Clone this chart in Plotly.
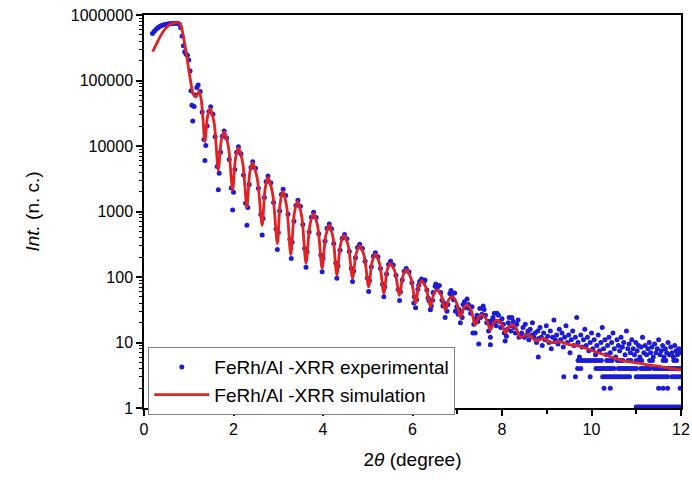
import plotly.graph_objects as go

# ---------------- data ----------------
# experimental: low-angle plateau and critical-angle region
exp_start_x = [0.19,0.23,0.27,0.31,0.35,0.39,0.43,0.47,0.51,0.55,0.59,0.63,0.67,0.71,0.75,0.79,0.82,0.85,0.88,0.91,
               0.94,0.97,1.00,1.03,1.05,1.07,1.09,1.12,1.15,1.18,1.21,1.255,1.30,1.34]
exp_start_y = [520000,565000,605000,640000,670000,690000,705000,715000,725000,732000,738000,742000,746000,748000,745000,725000,640000,480000,340000,275000,
               252000,242000,205000,140000,70000,42000,24000,40000,60000,78000,85000,68000,33000,12600]

# experimental: Kiessig fringes
exp_osc_x = [1.36,1.38,1.41,1.45,1.49,1.54,1.59,1.635,
             1.66,1.68,1.71,1.75,1.79,1.847,1.904,1.95,
             1.98,2.00,2.03,2.07,2.11,2.167,2.224,2.27,
             2.30,2.32,2.35,2.39,2.43,2.493,2.556,2.61,
             2.64,2.66,2.69,2.73,2.77,2.833,2.896,2.95,
             2.98,3.00,3.03,3.07,3.11,3.164,3.218,3.26,
             3.29,3.31,3.35,3.395,3.44,3.494,3.548,3.59,
             3.62,3.645,3.69,3.74,3.79,3.847,3.904,3.95,
             3.98,4.00,4.045,4.09,4.14,4.19,4.24,4.285,
             4.31,4.335,4.38,4.43,4.48,4.534,4.588,4.633,
             4.66,4.685,4.725,4.77,4.82,4.88,4.94,4.99,
             5.02,5.04,5.08,5.125,5.17,5.227,5.284,5.33,
             5.36,5.38,5.42,5.465,5.51,5.57,5.63,5.68,
             5.71,5.73,5.77,5.815,5.86,5.923,5.986,6.04,
             6.07,6.09,6.12,6.16,6.20,6.26,6.32,6.37,
             6.40,6.42,6.46,6.505,6.55,6.60,6.66,6.70,
             6.73,6.75,6.79,6.835,6.88,6.94,6.99,7.04,
             7.07,7.09,7.13,7.175,7.22,7.27,7.33,7.37,
             7.40,7.42,7.46,7.505,7.55,7.60,7.66,7.71,
             7.74,7.76,7.80,7.845,7.89,7.95,8.00,8.05,
             8.08,8.10,8.14,8.18,8.22,8.28,8.33,8.38,
             8.41]
exp_osc_y = [6030,10200,20200,33600,39800,30600,13900,4850,
             2140,3820,8050,14100,17000,13200,6220,2290,
             1050,1960,4380,8000,9770,7620,3610,1340,
             617,1150,2580,4710,5750,4560,2270,899,
             437,780,1640,2880,3470,2750,1370,542,
             263,476,1020,1810,2190,1760,908,378,
             191,338,708,1230,1480,1200,635,273,
             141,243,488,820,977,809,459,216,
             120,192,352,555,646,543,324,163,
             95.5,147,256,389,447,385,246,135,
             85.1,123,197,281,316,272,174,96,
             60.3,88.1,144,207,234,204,135,77.3,
             50.1,71,111,155,174,153,106,64.3,
             43.6,59.8,89.9,122,135,119,82,49.9,
             33.9,45,64.9,85.1,93.3,84.7,63.2,42.9,
             31.6,36,58,72,66,74,44,40,
             24,36,38,56,50,57,35,32,
             20,29,38,34,46,33,35,19,
             14,23,21,33,27,32,20,21,
             12,19,24,21,28,21,23,14,
             15,12.5,20,18,24,17,19,12,
             13]

# experimental: scattered points in the fringe region
exp_scat_x = [6.03,6.14,6.28,6.35,6.45,6.52,6.63,6.68,6.77,6.86,6.92,6.96,7.02,7.11,7.16,7.25,7.30,7.35,7.44,7.48,
              7.52,7.58,7.63,7.70,7.74,7.78,7.83,7.87,7.92,7.97,8.03,8.07,8.12,8.16,8.20,8.25,8.30,8.36,8.81]
exp_scat_y = [40,75,90,48,44,78,58,36,30,62,45,30,27,24,42,38,28,14,26,9.5,
              24,36,26,15,9.2,22,28,18,26,17,19,10.5,16,24,15,21,14,22,6]

# experimental: noisy high-angle tail
exp_tail_x = [8.44,8.47,8.50,8.52,8.55,8.58,8.60,8.63,8.66,8.68,8.71,8.74,8.77,8.80,8.82,8.85,8.88,8.90,8.93,8.96,
              8.99,9.02,9.05,9.08,9.10,9.13,9.16,9.19,9.22,9.25,9.28,9.31,9.34,9.37,9.40,9.43,9.46,9.49,9.52,9.55,
              9.58,9.61,9.64,9.67,9.70,9.73,9.76,9.79,9.82,9.85,9.88,9.91,9.94,9.97,10.00,10.03,10.06,10.09,10.12,10.15,
              10.18,10.21,10.24,10.27,10.30,10.33,10.36,10.39,10.42,10.45,10.48,10.51,10.54,10.57,10.60,10.63,10.66,10.69,10.72,10.75,
              10.78,10.81,10.84,10.87,10.90,10.93,10.96,10.99,11.02,11.05,11.08,11.11,11.14,11.17,11.20,11.23,11.26,11.29,11.32,11.35,
              11.38,11.41,11.44,11.47,11.50,11.53,11.56,11.59,11.62,11.65,11.68,11.71,11.74,11.77,11.80,11.83,11.86,11.89,11.92,11.95,
              11.98]
exp_tail_y = [14,17,12,19,13,15,11,16,13,20,12,14,10,15,11.5,17,12,9,14,11,
              18,12.5,10,15,8,12,22,11,13,9.5,16,11,14,8.5,12,18,10,13,7,11,
              15,9,12,24,10,6,13,8.5,11,16,9,12,7.5,10,14,8,11,6.5,9,13,
              7.5,10,17,8,11,6.5,9,12,7,10,14,8,6,11,9,7.5,12,8.5,10,6.5,
              15,8,9.5,7,11,8,6.5,10,7.5,9,6,8.5,12,7,9,6.5,8,10,7,8.5,
              6,9.5,7,8,11,6.5,7.5,9,6,8,7,10,6.5,8.5,7,6,9,7.5,6.5,8,
              7]

# experimental: low-count levels (quantised intensities) in the tail
row_levels = [5.3, 4.0, 3.0, 2.0, 1.04]
row5_x = [9.70,9.75,9.80,9.86,9.92,9.98,10.04,10.10,10.16,10.22,10.34,10.40,10.46,10.58,10.64,10.70,10.82,10.88,
          11.00,11.06,11.12,11.30,11.36,11.60,11.66,11.84,11.90]
row4_x = [9.69,9.76,10.10,10.15,10.20,10.25,10.30,10.35,10.40,10.45,10.50,10.60,10.65,10.70,10.75,10.80,10.85,10.90,
          10.95,11.00,11.10,11.15,11.20,11.25,11.30,11.40,11.45,11.50,11.55,11.60,11.65,11.70,11.75,11.80,11.85,11.90,
          11.95,12.00]
row3_x = [9.38,9.64,9.97,10.25,10.30,10.35,10.40,10.45,10.50,10.55,10.60,10.65,10.70,10.75,10.80,10.85,11.00,11.05,
          11.10,11.15,11.20,11.25,11.30,11.35,11.40,11.45,11.50,11.55,11.60,11.65,11.70,11.80,11.85,11.90,11.95,12.00]
row2_x = [10.28,10.42,11.50,11.60,11.70,11.98]
row1_x = [11.00,11.04,11.08,11.12,11.16,11.20,11.24,11.28,11.32,11.36,11.40,11.44,11.48,11.52,11.56,11.60,11.64,
          11.68,11.72,11.76,11.80,11.84,11.88,11.92,11.96,12.00]

# simulation
sim_x = [0.19,0.25,0.31,0.37,0.43,0.49,0.55,0.61,0.67,0.73,0.77,0.81,0.85,0.89,0.93,0.97,1.01,1.05,1.10,1.16,
         1.23,1.28,1.32,1.36,1.42,1.48,1.57,1.66,1.725,1.79,1.885,1.98,2.045,2.11,2.205,2.30,2.36,2.42,2.53,2.64,
         2.705,2.77,2.875,2.98,3.04,3.10,3.19,3.28,3.355,3.43,3.525,3.62,3.705,3.79,3.885,3.98,4.06,4.14,4.225,4.31,
         4.39,4.47,4.565,4.66,4.74,4.82,4.92,5.02,5.095,5.17,5.265,5.36,5.43,5.50,5.605,5.71,5.785,5.86,5.965,6.07,
         6.135,6.20,6.30,6.40,6.475,6.55,6.64,6.73,6.805,6.88,6.975,7.07,7.145,7.22,7.31,7.40,7.475,7.55,7.645,7.74,
         7.815,7.89,7.985,8.08,8.15,8.22,8.315,8.41,8.58,8.76,8.92,9.10,9.31,9.50,9.75,10.0,10.2,10.45,10.65,10.9,
         11.1,11.3,11.54,11.8,12.0]
sim_y = [275000,330000,400000,480000,560000,630000,690000,735000,760000,772000,770000,720000,600000,430000,300000,200000,135000,90000,62000,56000,
         68000,50000,25000,11700,28100,37600,21800,4270,11800,16600,9950,2140,6460,9330,5560,1175,3770,5560,3210,617,
         2180,3310,1850,324,1290,2040,1170,219,900,1445,837,162,603,933,575,135,422,617,398,107,
         307,437,299,95.5,226,302,210,70.8,168,224,158,56.2,124,162,122,52.5,103,129,96,39.8,
         71.6,87.1,69.6,35.5,54.6,63.1,53.1,31.6,44.7,50.1,41.9,24.5,33.5,37.2,31.3,18.6,24.1,26.3,23.0,15.5,
         20.1,21.9,19.6,14.1,17.4,18.6,16.7,12.0,13.2,10.7,11.5,10.0,10.2,9.3,8.7,7.6,6.8,6.0,5.4,5.0,
         4.8,4.5,4.3,4.0,3.8]

x_ticks = [0, 2, 4, 6, 8, 10, 12]
y_tick_vals = [1, 10, 100, 1000, 10000, 100000, 1000000]
y_tick_text = ["1", "10", "100", "1000", "10000", "100000", "1000000"]
series_names = ["FeRh/Al -XRR experimental", "FeRh/Al -XRR simulation"]

assert len(exp_start_x) == len(exp_start_y)
assert len(exp_osc_x) == len(exp_osc_y)
assert len(exp_scat_x) == len(exp_scat_y)
assert len(exp_tail_x) == len(exp_tail_y)
assert len(sim_x) == len(sim_y)

# ---------------- assemble ----------------
rows_x = [row5_x, row4_x, row3_x, row2_x, row1_x]
exp_x = exp_start_x + exp_osc_x + exp_scat_x + exp_tail_x
exp_y = exp_start_y + exp_osc_y + exp_scat_y + exp_tail_y
for lvl, xs in zip(row_levels, rows_x):
    exp_x += xs
    exp_y += [lvl] * len(xs)

fig = go.Figure()
fig.add_trace(go.Scatter(
    x=exp_x, y=exp_y, mode="markers", name=series_names[0],
    marker=dict(color="#1c1cd6", size=5, line=dict(width=0)),
))
fig.add_trace(go.Scatter(
    x=sim_x, y=sim_y, mode="lines", name=series_names[1],
    line=dict(color="#e02222", width=2.8, shape="spline", smoothing=0.8),
))

font_family = "Arial, 'Liberation Sans', sans-serif"
y_minor = [m * 10 ** k for k in range(6) for m in range(2, 10)]

fig.update_layout(
    width=692, height=480,
    margin=dict(l=144, r=11, t=15, b=72),
    paper_bgcolor="white", plot_bgcolor="white",
    font=dict(family=font_family, color="black", size=16),
    showlegend=True,
    legend=dict(
        x=0.008, y=0.155, xanchor="left", yanchor="top",
        bgcolor="white", bordercolor="#808080", borderwidth=1,
        font=dict(size=19, color="black"), itemwidth=55, tracegroupgap=0,
    ),
    xaxis=dict(
        range=[0, 12], tickmode="array", tickvals=x_ticks, automargin=False,
        ticks="outside", ticklen=6, tickwidth=1.5, tickcolor="black",
        minor=dict(tickvals=[1, 3, 5, 7, 9, 11], ticks="outside", ticklen=4, tickwidth=1.5, tickcolor="black"),
        showline=True, linecolor="black", linewidth=1.5, mirror=True,
        showgrid=False, zeroline=False,
        tickfont=dict(size=16),
        title=dict(text="2<i>θ</i> (degree)", font=dict(size=19), standoff=16),
    ),
    yaxis=dict(
        type="log", range=[0, 6], tickmode="array", automargin=False,
        tickvals=y_tick_vals, ticktext=y_tick_text,
        ticks="outside", ticklen=6, tickwidth=1.5, tickcolor="black",
        minor=dict(tickvals=y_minor, ticks="outside", ticklen=3, tickwidth=1, tickcolor="black"),
        showline=True, linecolor="black", linewidth=1.5, mirror=True,
        showgrid=False, zeroline=False,
        tickfont=dict(size=16),
        title=dict(text="<i>Int.</i> (n. c.)", font=dict(size=19), standoff=26),
    ),
)

fig.write_html("out.html")
